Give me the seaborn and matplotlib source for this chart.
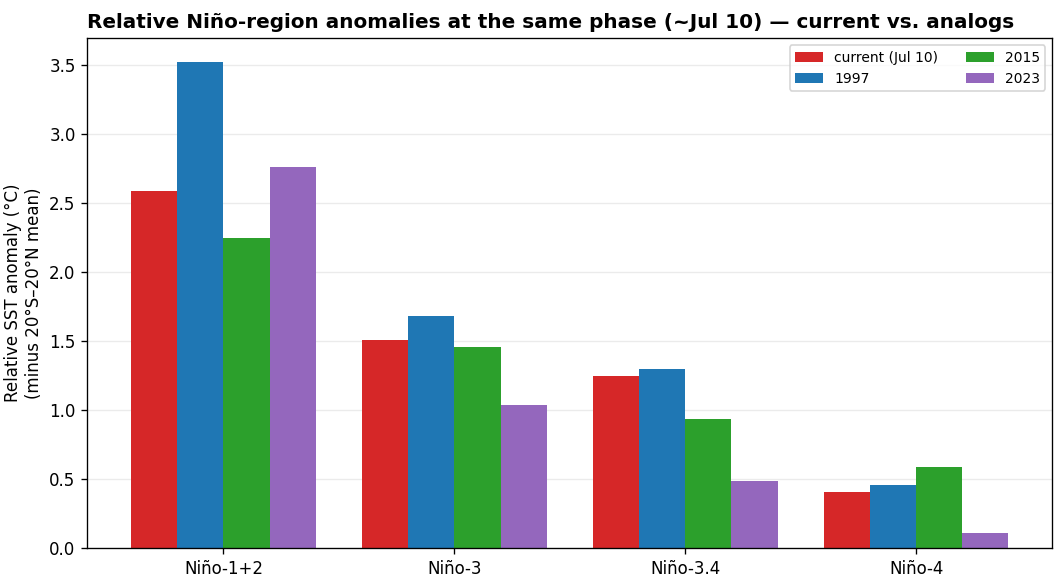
import pandas as pd
import matplotlib
matplotlib.use('Agg')
import matplotlib.pyplot as plt
import seaborn as sns

# Niño regions and relative SST anomalies per season
regions = ['Niño-1+2', 'Niño-3', 'Niño-3.4', 'Niño-4']
series = ['current (Jul 10)', '1997', '2015', '2023']
current = [2.59, 1.51, 1.25, 0.41]
y1997 = [3.52, 1.68, 1.30, 0.46]
y2015 = [2.25, 1.46, 0.94, 0.59]
y2023 = [2.76, 1.04, 0.49, 0.11]

colors = ['tab:red', 'tab:blue', 'tab:green', 'tab:purple']

rows = []
for name, vals in zip(series, [current, y1997, y2015, y2023]):
    for region, v in zip(regions, vals):
        rows.append({'region': region, 'series': name, 'value': v})
df = pd.DataFrame(rows)

fig, ax = plt.subplots(figsize=(10.64 / 1.2, 5.87 / 1.2), dpi=120)
sns.barplot(data=df, x='region', y='value', hue='series', order=regions,
            hue_order=series, palette=colors, saturation=1, width=0.8,
            linewidth=0, ax=ax, errorbar=None)

ax.set_xlim(-0.59, 3.59)
ax.set_ylim(0, 3.696)
ax.set_xlabel('')
ax.set_ylabel('Relative SST anomaly (°C)\n(minus 20°S–20°N mean)')
ax.set_title('Relative Niño-region anomalies at the same phase (~Jul 10) — current vs. analogs',
             loc='left', fontweight='bold', fontsize=12)
ax.grid(axis='y', alpha=0.25)
ax.set_axisbelow(True)
ax.legend(title=None, ncol=2, fontsize='small', loc='upper right')

fig.subplots_adjust(left=0.082, right=0.989, top=0.935, bottom=0.066)
fig.savefig('out.png', dpi=120)
plt.close(fig)
